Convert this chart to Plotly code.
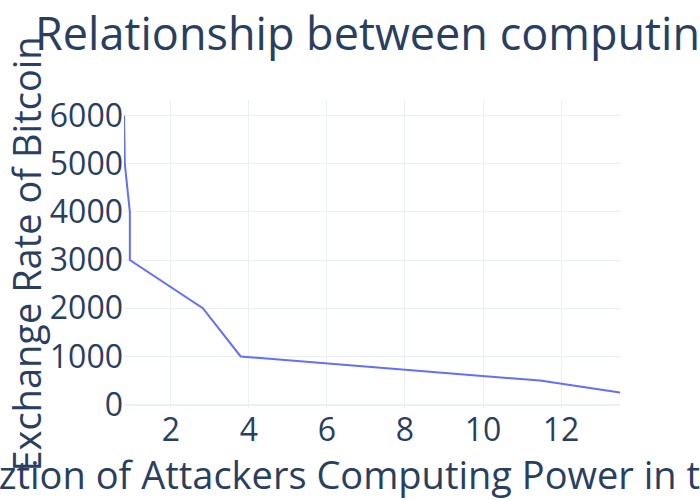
import plotly.graph_objects as go

computing_power = [0.80, 0.82, 0.95, 0.95, 2.82, 3.79, 11.46, 13.51]
exchange_rate = [6000, 5000, 4000, 3000, 2000, 1000, 500, 250]

title_text = "Relationship between computing power and the exchange rate of Bitcoin"
x_title = "The Realiztion of Attackers Computing Power in the Network"
y_title = "Exchange Rate of Bitcoin"

fig = go.Figure(go.Scatter(x=computing_power, y=exchange_rate, mode="lines"))
fig.update_layout(
    template="plotly_white",
    width=700, height=500,
    margin=dict(l=124, r=80, t=100, b=92),
    font=dict(size=32),
    title=dict(text=title_text, font=dict(size=45)),
    xaxis=dict(title=dict(text=x_title, font=dict(size=38)), automargin=False),
    yaxis=dict(title=dict(text=y_title, font=dict(size=38)), automargin=False),
)
fig.write_html("out.html", config={"displayModeBar": False},
               post_script="document.body.style.margin='0';")
